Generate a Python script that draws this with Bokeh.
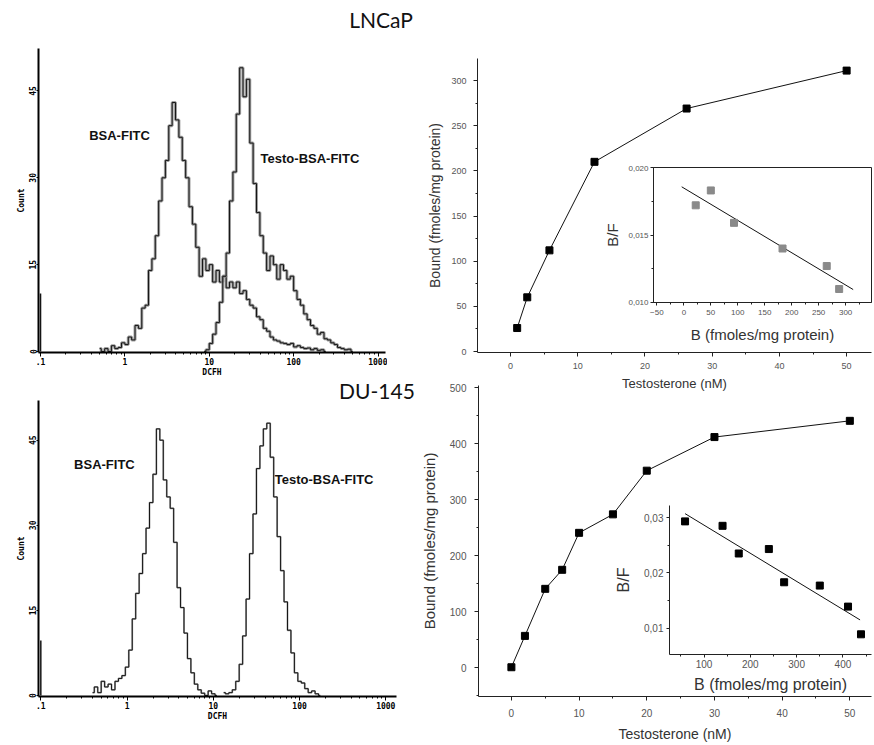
import numpy as np
from bokeh.plotting import figure
from bokeh.models import (GridBox, Range1d, FixedTicker, SingleIntervalTicker,
                          CustomJSTickFormatter, Label)
from bokeh.embed import file_html
from bokeh.resources import INLINE

# ---------------- data ----------------
# flow-cytometry histograms: counts per channel, channels spaced LOG_STEP decades apart
LOG_STEP = 0.04
lncap_bsa_start = -0.30
lncap_bsa = [0.5, 0, 0.5, 0, 1, 0.5, 0.7, 1.5, 1.2, 2.5, 2.0, 4.5, 4.0, 7.5, 8.0,
             14, 16, 20, 26, 30, 33, 39, 43, 40, 37, 33, 30, 25, 22, 18, 13, 16,
             14, 15, 12, 14, 12, 13, 11, 12, 11, 12, 10, 10.5, 9, 8, 7.5, 6, 5.5,
             4, 3.5, 2.5, 2, 1.8, 1.5, 1.4, 1.2, 1.4, 0.8, 1.0, 0.7, 0.5, 0.6,
             0.3, 0.5, 0.2, 0.3, 0]
lncap_testo_start = 0.94
lncap_testo = [0, 0.3, 1.4, 3, 5, 8.5, 13, 17, 26, 31, 41, 49, 44, 47, 36, 29, 24,
               20, 17, 14, 16.5, 15, 12.5, 15, 14, 12.5, 13, 10.5, 9, 8, 6.5, 5.5,
               4.5, 4, 3, 3.3, 2.2, 2, 1.5, 1.2, 0.7, 0.5, 0.3, 0.4, 0]
du_bsa_start = -0.40
du_bsa = [0.5, 1.5, 0.5, 2.5, 1.5, 2.0, 1.0, 2.5, 3.0, 3.5, 5, 8, 13.5, 18, 21.5,
          25, 29.5, 34, 39, 47, 45, 38, 35, 33, 27, 19, 15.5, 11, 6.5, 4, 2, 1,
          0.4, 0, 0.8, 0.3, 0]
du_testo_start = 1.12
du_testo = [0.5, 0.3, 0.5, 1.0, 2.5, 5.5, 10.5, 17, 25, 32, 40, 44, 47, 48, 42, 35,
            28, 22, 16.5, 11.5, 7.5, 4, 2.5, 2.2, 1.2, 0.5, 0.8, 0.3, 0]
first_channel_lncap = 10
first_channel_du = 9.7

hist_ticks = [0.1, 1, 10, 100, 1000]
hist_tick_labels = [".1", "1", "10", "100", "1000"]
count_ticks = [0, 15, 30, 45]

# saturation binding + Scatchard (LNCaP)
lncap_conc = [1, 2.5, 5.8, 12.5, 26.2, 50]
lncap_bound = [26, 60, 112, 210, 269, 311]
lncap_B = [22, 50, 93, 183, 265, 288]
lncap_BF = [0.0172, 0.0183, 0.0159, 0.0140, 0.0127, 0.0110]
lncap_fit_B = [-4, 314]
lncap_fit_BF = [0.01857, 0.01096]

# saturation binding + Scatchard (DU-145)
du_conc = [0, 2, 5, 7.5, 10, 15, 20, 30, 50]
du_bound = [1, 57, 141, 175, 241, 274, 352, 412, 441]
du_B = [59, 140, 175, 240, 273, 350, 411, 439]
du_BF = [0.0293, 0.0285, 0.0235, 0.0243, 0.0183, 0.0177, 0.0139, 0.0089]
du_fit_B = [59, 437]
du_fit_BF = [0.0307, 0.0115]

panel_titles = ["LNCaP", "DU-145"]

# ---------------- helpers ----------------
ARIAL = "Liberation Sans"
MONO = "DejaVu Sans Mono"
# every figure shares the same borders (the layout aligns them anyway)
BL, BR, BT, BB = 60, 2, 2, 48


def base_fig(fx0, fy0, fw, fh, **kw):
    """figure whose plotting frame sits at window pixel (fx0, fy0) with size fw x fh"""
    p = figure(width=BL + fw + BR, height=BT + fh + BB, output_backend="svg",
               toolbar_location=None, title=None,
               min_border_left=BL, min_border_right=BR, min_border_top=BT, min_border_bottom=BB,
               **kw)
    p.margin = (fy0 - BT, 0, 0, fx0 - BL)
    p.grid.visible = False
    p.outline_line_color = None
    p.background_fill_alpha = 0
    p.border_fill_alpha = 0
    return p


def title_fig(text, fx0, fy0, fw, fh):
    p = base_fig(fx0, fy0, fw, fh, x_range=Range1d(0, 1), y_range=Range1d(0, 1))
    p.axis.visible = False
    p.add_layout(Label(x=0.5, y=0.5, text=text, text_align="center", text_baseline="middle",
                       text_font="Lato", text_font_size="21px", text_color="#111"))
    return p


def hist_fig(fx0, fy0, fw, fh, xr, yr):
    p = base_fig(fx0, fy0, fw, fh, x_axis_type="log",
                 x_range=Range1d(*xr), y_range=Range1d(*yr))
    p.xaxis.ticker = FixedTicker(ticks=hist_ticks,
                                 minor_ticks=[k * 10.0 ** e for e in range(-1, 3) for k in range(2, 10)])
    p.xaxis.formatter = CustomJSTickFormatter(
        args=dict(t=hist_ticks, l=hist_tick_labels),
        code="for (let i=0;i<t.length;i++){ if (Math.abs(Math.log10(tick)-Math.log10(t[i]))<0.01) return l[i]; } return '';")
    p.yaxis.ticker = FixedTicker(ticks=count_ticks)
    p.xaxis.axis_label = "DCFH"
    p.yaxis.axis_label = "Count"
    p.yaxis.major_label_orientation = "vertical"
    for ax in (p.xaxis[0], p.yaxis[0]):
        ax.axis_line_width = 2
        ax.axis_line_color = "black"
        ax.major_tick_line_color = "black"
        ax.minor_tick_line_color = "black"
        ax.major_tick_in = 0
        ax.minor_tick_in = 0
        ax.major_label_text_font = MONO
        ax.major_label_text_font_style = "bold"
        ax.major_label_text_font_size = "8px"
        ax.major_label_text_color = "black"
        ax.axis_label_text_font = MONO
        ax.axis_label_text_font_style = "bold"
        ax.axis_label_text_font_size = "8px"
        ax.axis_label_text_color = "black"
    p.xaxis.major_tick_out = 4
    p.xaxis.minor_tick_out = 2
    p.xaxis.major_label_standoff = 1
    p.xaxis.axis_label_standoff = 0
    p.yaxis.major_tick_out = 2
    p.yaxis.major_label_standoff = 0
    p.yaxis.axis_label_standoff = 1
    return p


def draw_hist(p, start, vals, first, under_w):
    xs = 10 ** (start + LOG_STEP * np.arange(len(vals)))
    p.step(xs, vals, mode="center", line_color="#8f8f8f", line_width=under_w, line_alpha=0.85)
    p.step(xs, vals, mode="center", line_color="#151515", line_width=1.0)
    if first:
        p.segment(x0=[hist_ticks[0]], y0=[0], x1=[hist_ticks[0]], y1=[first],
                  line_color="#151515", line_width=1.5)


def hist_label(p, x, y, text):
    p.add_layout(Label(x=x, y=y, text=text, text_font=ARIAL, text_font_style="bold",
                       text_font_size="13px", text_baseline="middle", text_color="#111"))


def style_lin(p, tick_size, lab_size, tick_out=4, xl_stand=6, yl_stand=7, xa_stand=5, ya_stand=7,
              label_color="#333", tick_color="#555"):
    for ax in (p.xaxis[0], p.yaxis[0]):
        ax.axis_line_color = "#222"
        ax.major_tick_line_color = "#222"
        ax.minor_tick_line_color = "#222"
        ax.major_tick_in = 0
        ax.minor_tick_in = 0
        ax.major_tick_out = tick_out
        ax.minor_tick_out = 2
        ax.major_label_text_font = ARIAL
        ax.major_label_text_font_size = tick_size
        ax.major_label_text_color = tick_color
        ax.axis_label_text_font = ARIAL
        ax.axis_label_text_font_style = "normal"
        ax.axis_label_text_font_size = lab_size
        ax.axis_label_text_color = label_color
    p.xaxis.major_label_standoff = xl_stand
    p.yaxis.major_label_standoff = yl_stand
    p.xaxis.axis_label_standoff = xa_stand
    p.yaxis.axis_label_standoff = ya_stand


# ---------------- histograms ----------------
h1 = hist_fig(37, 48, 348, 304, (0.0946, 1227), (-0.17, 52.33))
draw_hist(h1, lncap_bsa_start, lncap_bsa, first_channel_lncap, 3.0)
draw_hist(h1, lncap_testo_start, lncap_testo, 0, 3.0)
hist_label(h1, 0.377, 37.3, "BSA-FITC")
hist_label(h1, 40.6, 33.3, "Testo-BSA-FITC")

h2 = hist_fig(37, 400, 359, 296, (0.094, 1330), (-0.18, 52.0))
draw_hist(h2, du_bsa_start, du_bsa, first_channel_du, 1.8)
draw_hist(h2, du_testo_start, du_testo, 0, 1.8)
hist_label(h2, 0.243, 40.7, "BSA-FITC")
hist_label(h2, 51.6, 38.0, "Testo-BSA-FITC")

# ---------------- LNCaP binding ----------------
b1 = base_fig(476, 58, 395, 294, x_range=Range1d(-4.9, 53.7), y_range=Range1d(-1.1, 324.4))
b1.xaxis.ticker = SingleIntervalTicker(interval=10, num_minor_ticks=2)
b1.yaxis.ticker = SingleIntervalTicker(interval=50, num_minor_ticks=2)
b1.xaxis.axis_label = "Testosterone (nM)"
b1.yaxis.axis_label = "Bound (fmoles/mg protein)"
style_lin(b1, "9px", "14px", xl_stand=6, yl_stand=7, xa_stand=4, ya_stand=5)
b1.xaxis.axis_label_text_font_size = "13px"
b1.line(lncap_conc, lncap_bound, line_color="#111", line_width=1)
b1.scatter(lncap_conc, lncap_bound, marker="square", size=7, fill_color="black", line_color="black")

# ---------------- DU-145 binding ----------------
b2 = base_fig(477, 385, 394, 311, x_range=Range1d(-4.86, 53.2), y_range=Range1d(-51.25, 504.1))
b2.xaxis.ticker = SingleIntervalTicker(interval=10, num_minor_ticks=2)
b2.yaxis.ticker = SingleIntervalTicker(interval=100, num_minor_ticks=2)
b2.xaxis.axis_label = "Testosterone (nM)"
b2.yaxis.axis_label = "Bound (fmoles/mg protein)"
style_lin(b2, "10px", "15px", xl_stand=8, yl_stand=8, xa_stand=6, ya_stand=9)
b2.xaxis.axis_label_text_font_size = "14px"
b2.line(du_conc, du_bound, line_color="#111", line_width=1)
b2.scatter(du_conc, du_bound, marker="square", size=7, fill_color="black", line_color="black")

# ---------------- LNCaP Scatchard inset ----------------
i1 = base_fig(652, 167, 219, 135, x_range=Range1d(-56.3, 348.0), y_range=Range1d(0.010, 0.020))
i1.background_fill_alpha = 1
i1.background_fill_color = "white"
i1.outline_line_color = "#222"
i1.outline_line_width = 1
i1.xaxis.ticker = SingleIntervalTicker(interval=50, num_minor_ticks=2)
i1.yaxis.ticker = SingleIntervalTicker(interval=0.005, num_minor_ticks=2)
i1.yaxis.formatter = CustomJSTickFormatter(code="return tick.toFixed(3).replace('.', ',');")
i1.xaxis.axis_label = "B (fmoles/mg protein)"
i1.yaxis.axis_label = "B/F"
style_lin(i1, "8px", "15px", tick_out=3, xl_stand=4, yl_stand=2, xa_stand=8, ya_stand=4)
i1.line(lncap_fit_B, lncap_fit_BF, line_color="#111", line_width=1)
i1.scatter(lncap_B, lncap_BF, marker="square", size=7, fill_color="#8a8a8a", line_color="#8a8a8a")

# ---------------- DU-145 Scatchard inset ----------------
i2 = base_fig(668, 505, 203, 149, x_range=Range1d(25.4, 461.7), y_range=Range1d(0.00525, 0.03217))
i2.xaxis.ticker = SingleIntervalTicker(interval=100, num_minor_ticks=2)
i2.yaxis.ticker = SingleIntervalTicker(interval=0.01, num_minor_ticks=2)
i2.yaxis.formatter = CustomJSTickFormatter(code="return tick.toFixed(2).replace('.', ',');")
i2.xaxis.axis_label = "B (fmoles/mg protein)"
i2.yaxis.axis_label = "B/F"
style_lin(i2, "10px", "16px", tick_out=3, xl_stand=2, yl_stand=3, xa_stand=5, ya_stand=9)
i2.line(du_fit_B, du_fit_BF, line_color="#111", line_width=1)
i2.scatter(du_B, du_BF, marker="square", size=7, fill_color="black", line_color="black")

# ---------------- panel titles ----------------
tt1 = title_fig(panel_titles[0], 330, 6, 100, 26)
tt2 = title_fig(panel_titles[1], 326, 377, 100, 25)

figs = [h1, h2, b1, b2, i1, i2, tt1, tt2]
layout = GridBox(children=[(f, 0, 0) for f in figs])

open("out.html", "w").write(file_html(layout, INLINE))
